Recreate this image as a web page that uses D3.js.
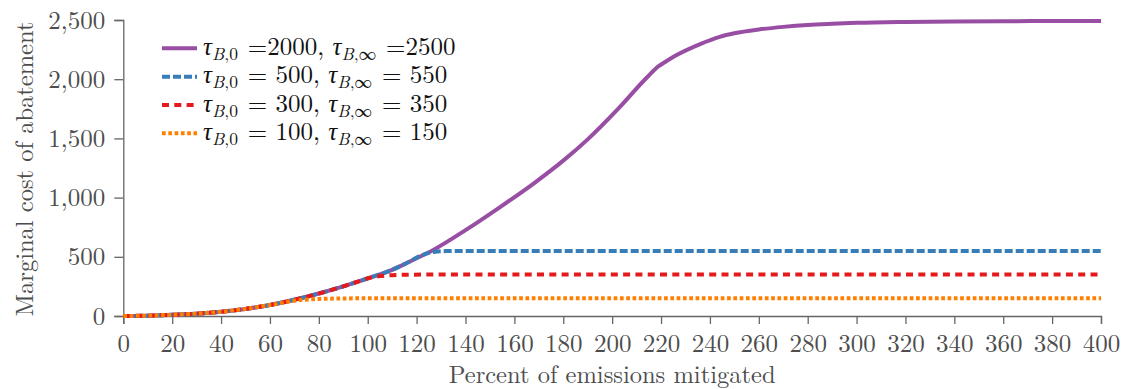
<!DOCTYPE html>
<html>
<head>
<meta charset="utf-8">
<script src="https://cdn.jsdelivr.net/npm/d3@7"></script>
<style>
  html, body { margin: 0; padding: 0; background: #fff; }
  svg { display: block; }
  svg text { font-family: 'Latin Modern Roman', 'Liberation Serif', serif; }
</style>
</head>
<body>
<svg id="chart" width="1122" height="389"></svg>
<script>
// x values (percent of emissions mitigated) and read-off curve values
const pctPurple = [0, 10, 20, 30, 40, 50, 60, 70, 80, 90, 100, 110, 117, 127, 140, 154, 168, 180, 190, 203, 214, 219, 222, 226, 236, 244, 250, 260, 270, 280, 290, 300, 320, 340, 360, 380, 400];
const costPurple = [0, 3, 10, 20, 36, 60, 93, 137, 190, 250, 318, 390, 458, 560, 725, 918, 1121, 1312, 1492, 1762, 2010, 2110, 2150, 2200, 2297, 2358, 2388, 2420, 2442, 2458, 2468, 2476, 2484, 2488, 2490, 2491, 2492];

const pctBlue = [0, 10, 20, 30, 40, 50, 60, 70, 80, 90, 100, 110, 117, 121, 124, 127, 132, 140, 400];
const costBlue = [0, 3, 10, 20, 36, 60, 93, 137, 190, 250, 318, 390, 458, 503, 527, 541, 548, 550, 550];

const pctRed = [0, 10, 20, 30, 40, 50, 60, 70, 80, 90, 97, 101, 105, 110, 118, 130, 400];
const costRed = [0, 3, 10, 20, 36, 60, 93, 137, 190, 250, 298, 323, 337, 345, 349, 350, 350];

const pctOrange = [0, 10, 20, 30, 40, 50, 60, 63, 67, 72, 80, 90, 105, 400];
const costOrange = [0, 3, 10, 20, 36, 60, 93, 103, 120, 134, 144, 148, 150, 150];

const xTicks = d3.range(0, 401, 20);
const yTicks = [0, 500, 1000, 1500, 2000, 2500];

const seriesNames = [
  { v0: " =2000, ", vi: " =2500" },
  { v0: " = 500, ", vi: " = 550" },
  { v0: " = 300, ", vi: " = 350" },
  { v0: " = 100, ", vi: " = 150" }
];

const series = [
  { x: pctPurple, y: costPurple, color: "#984ea3", dash: null },
  { x: pctBlue, y: costBlue, color: "#377eb8", dash: "8 3" },
  { x: pctRed, y: costRed, color: "#e41a1c", dash: "7 5.3" },
  { x: pctOrange, y: costOrange, color: "#ff7f00", dash: "3.7 2.6" }
];

const labelFont = "'Latin Modern Roman', 'Liberation Serif', serif";
const svg = d3.select("#chart");

const x = d3.scaleLinear().domain([0, 400]).range([123.3, 1101]);
const y = d3.scaleLinear().domain([0, 2500]).range([316, 20]);

// axes
const gx = svg.append("g")
    .attr("transform", `translate(0,${y(0)})`)
    .call(d3.axisBottom(x).tickValues(xTicks).tickSize(8).tickFormat(d3.format("d")));
const gy = svg.append("g")
    .attr("transform", `translate(${x(0)},0)`)
    .call(d3.axisLeft(y).tickValues(yTicks).tickSize(9).tickPadding(9).tickFormat(d3.format(",")));

[gx, gy].forEach(g => {
    g.attr("font-family", labelFont).attr("font-size", 25);
    g.select(".domain").attr("stroke", "#666").attr("stroke-width", 1.3);
    g.selectAll(".tick line").attr("stroke", "#666").attr("stroke-width", 1.3);
    g.selectAll(".tick text")
        .attr("fill", "#4d4d4d")
        .style("font-family", labelFont)
        .style("font-size", "25px");
});
gx.selectAll(".tick text").attr("y", 36).attr("dy", null);
gy.selectAll(".tick text").attr("dy", "0.32em");

// axis titles
svg.append("text")
    .attr("x", x(200))
    .attr("y", 383)
    .attr("text-anchor", "middle")
    .style("font-family", labelFont)
    .style("font-size", "24.5px")
    .attr("fill", "#4d4d4d")
    .text("Percent of emissions mitigated");

svg.append("text")
    .attr("transform", `translate(33,${y(1250) + 1}) rotate(-90)`)
    .attr("text-anchor", "middle")
    .style("font-family", labelFont)
    .style("font-size", "24.5px")
    .attr("fill", "#4d4d4d")
    .text("Marginal cost of abatement");

// lines (purple first, then blue, red, orange on top)
const line = d3.line().curve(d3.curveMonotoneX);
series.forEach(s => {
    const pts = s.x.map((v, i) => [x(v), y(s.y[i])]);
    svg.append("path")
        .attr("d", line(pts))
        .attr("fill", "none")
        .attr("stroke", s.color)
        .attr("stroke-width", 4)
        .attr("stroke-dasharray", s.dash);
});

// legend
const legY = [48.3, 76.7, 105, 133.3];
series.forEach((s, i) => {
    svg.append("line")
        .attr("x1", 162).attr("x2", 197)
        .attr("y1", legY[i]).attr("y2", legY[i])
        .attr("stroke", s.color)
        .attr("stroke-width", 4)
        .attr("stroke-dasharray", s.dash);

    const t = svg.append("text")
        .attr("x", 203)
        .attr("y", legY[i] + 6.7)
        .style("font-family", labelFont)
        .style("font-size", "25px")
        .attr("fill", "#111");
    const tau = (sub) => {
        t.append("tspan").attr("font-style", "italic").text("τ");
        t.append("tspan").style("font-size", "17.5px").attr("dy", 5)
            .html(`<tspan font-style="italic">B</tspan>,${sub}`);
        t.append("tspan").attr("dy", -5).text("\u200A");
    };
    tau("0");
    t.append("tspan").text(seriesNames[i].v0);
    tau("∞");
    t.append("tspan").text(seriesNames[i].vi);
});
</script>
</body>
</html>
